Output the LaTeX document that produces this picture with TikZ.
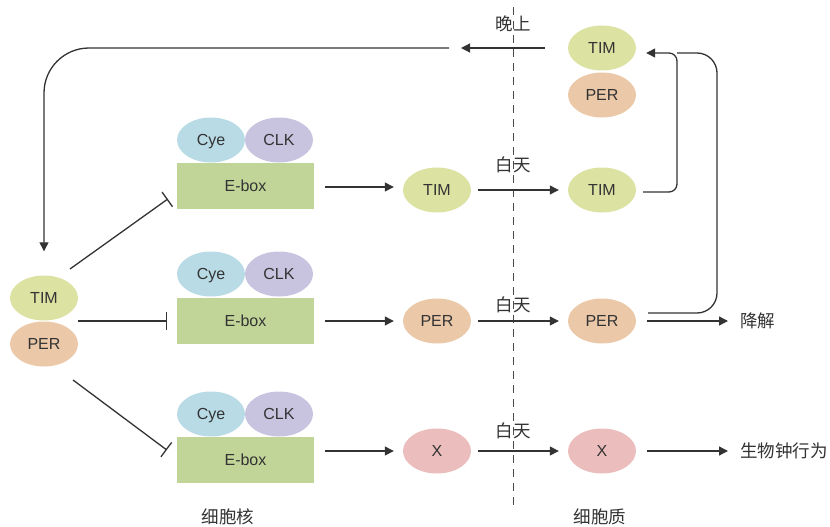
\documentclass[tikz,border=0pt]{standalone}
\usepackage{fontspec}
\setmainfont{Liberation Sans}
\newfontfamily\cjk{Noto Sans CJK SC}
\usetikzlibrary{shapes.geometric,arrows.meta,calc}

\definecolor{timc}{HTML}{DCE2A2}
\definecolor{perc}{HTML}{EAC8A8}
\definecolor{cyec}{HTML}{B8DBE6}
\definecolor{clkc}{HTML}{C8C4E0}
\definecolor{eboxc}{HTML}{C2D598}
\definecolor{xc}{HTML}{EBBDBD}
\definecolor{inkc}{HTML}{333333}

\tikzset{
  blob/.style={ellipse, minimum width=68pt, minimum height=45pt, inner sep=0pt,
    text height=11.5pt, text depth=0pt,
    font=\fontsize{16}{16}\selectfont, text=inkc},
  eboxnode/.style={rectangle, minimum width=137pt, minimum height=46pt, inner sep=0pt,
    text height=11.5pt, text depth=0pt,
    fill=eboxc, font=\fontsize{16}{16}\selectfont, text=inkc},
  link/.style={draw=inkc, line width=1.3pt},
  arr/.style={link, -{Triangle[length=9pt,width=9pt]}},
  inhib/.style={link, -{Bar[width=18pt]}},
  tag/.style={font=\cjk\fontsize{17.5}{17.5}\selectfont, text=inkc, inner sep=0pt},
}

\begin{document}
\begin{tikzpicture}[x=1pt,y=-1pt]
  \useasboundingbox (0,0) rectangle (830,527);

  % nucleus / cytoplasm boundary
  \draw[black!70, line width=1pt, dash pattern=on 8pt off 6pt] (513,7) -- (513,510);

  % three E-box promoters with the Cye/CLK dimer on top
  \foreach \r/\yb/\yc in {1/186/140, 2/321/274, 3/460/414} {
    \node[eboxnode] (eb\r) at (245.5,\yb) {E-box};
    \node[blob, fill=cyec] (cy\r) at (211,\yc) {Cye};
    \node[blob, fill=clkc] (ck\r) at (279,\yc) {CLK};
  }

  % nuclear products
  \node[blob, fill=timc] (nT) at (437,190) {TIM};
  \node[blob, fill=perc] (nP) at (437,321) {PER};
  \node[blob, fill=xc]   (nX) at (437,451) {X};

  % cytoplasmic products
  \node[blob, fill=timc] (cT) at (602,190) {TIM};
  \node[blob, fill=perc] (cP) at (602,321) {PER};
  \node[blob, fill=xc]   (cX) at (602,451) {X};

  % TIM/PER complex in the cytoplasm at night
  \node[blob, fill=timc] (kT) at (602,48) {TIM};
  \node[blob, fill=perc] (kP) at (602,95) {PER};

  % TIM/PER complex back in the nucleus
  \node[blob, fill=timc] (lT) at (44,298) {TIM};
  \node[blob, fill=perc] (lP) at (44,344) {PER};

  % outcomes
  \node[tag, anchor=west] (deg) at (740,321) {降解};
  \node[tag, anchor=west] (beh) at (740,451) {生物钟行为};

  % labels
  \node[tag] (night) at (513,24) {晚上};
  \node[tag] (day1) at (513,165) {白天};
  \node[tag] (day2) at (513,305) {白天};
  \node[tag] (day3) at (513,431) {白天};
  \node[tag] (nuc) at (228,517) {细胞核};
  \node[tag] (cyt) at (600,517) {细胞质};

  % transcription
  \draw[arr, shorten <=11pt, shorten >=9pt] ($(eb1.east)+(0,1)$) -- (nT.west |- 0,187);
  \draw[arr, shorten <=11pt, shorten >=9pt] (eb2.east) -- (nP.west);
  \draw[arr, shorten <=11pt, shorten >=9pt] (eb3.east |- nX) -- (nX.west);

  % export to the cytoplasm by day
  \draw[arr, shorten <=7pt, shorten >=9pt] (nT.east) -- (cT.west);
  \draw[arr, shorten <=7pt, shorten >=9pt] (nP.east) -- (cP.west);
  \draw[arr, shorten <=7pt, shorten >=9pt] (nX.east) -- (cX.west);

  % fates of PER and X
  \draw[arr, shorten <=11pt, shorten >=12pt] (cP.east) -- (deg.west);
  \draw[arr, shorten <=11pt, shorten >=12pt] (cX.east) -- (beh.west);

  % TIM and PER pair up at night
  \coordinate (joinR) at (677,53);
  \draw[link, rounded corners=20pt] ($(cP.east)+(12,-8)$) -| (717,53) -- (joinR);
  \draw[arr, rounded corners=8pt, shorten >=10pt] ($(cT.east)+(7,2)$) -| (joinR) -- (kT.east |- joinR);

  % return to the nucleus
  \coordinate (nightL) at (449,48);
  \draw[arr, shorten <=23pt, shorten >=12pt] (kT.west) -- (nightL);
  \draw[arr, rounded corners=45pt, shorten >=24pt] (nightL) -| (lT.north);

  % repression of the E-box promoters
  \draw[inhib] ($(lT)+(26,-29)$) -- ($(eb1.west)+(-9,13)$);
  \draw[inhib] ($(lT.east)!0.5!(lP.east)$) -- ($(eb2.west)+(-10,0)$);
  \draw[inhib] ($(lP)+(29,36)$) -- ($(eb3.west)+(-10,-10)$);
\end{tikzpicture}
\end{document}
